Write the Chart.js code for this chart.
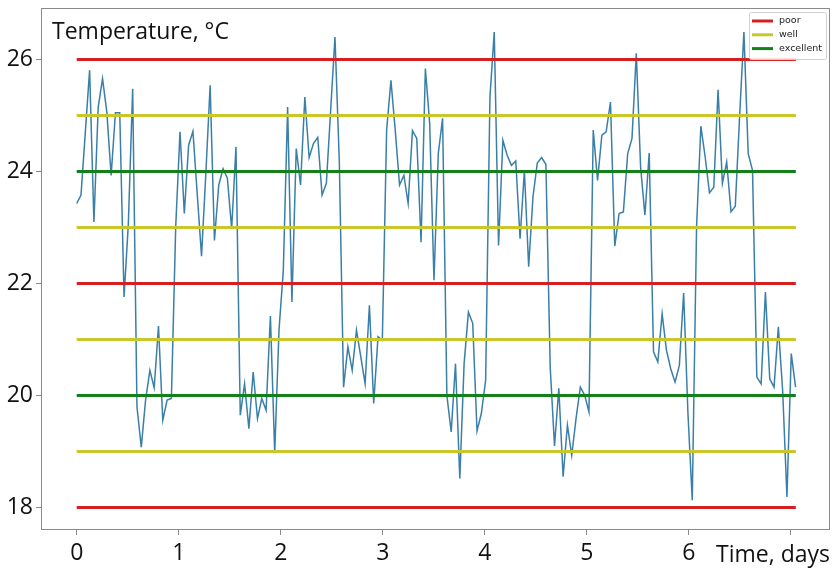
<!DOCTYPE html>
<html>
<head>
<meta charset="utf-8">
<script src="https://cdn.jsdelivr.net/npm/chart.js@4.4.0/dist/chart.umd.min.js"></script>
<style>
  html, body { margin: 0; padding: 0; background: #fff; }
  #wrap { width: 836px; height: 569px; }
</style>
</head>
<body>
<div id="wrap"><canvas id="tempChart" width="836" height="569"></canvas></div>
<script>
// hourly readings
var temps = [
  23.43, 23.58, 24.7, 25.81, 23.1, 25.15, 25.66, 25.06, 23.93, 25.05,
  25.05, 21.76, 23.07, 25.48, 19.8, 19.08, 19.92, 20.45, 20.14, 21.24,
  19.56, 19.92, 19.95, 23.01, 24.71, 23.25, 24.47, 24.72, 23.6, 22.49,
  23.96, 25.54, 22.77, 23.76, 24.05, 23.88, 22.98, 24.44, 19.65, 20.21,
  19.41, 20.42, 19.59, 19.95, 19.74, 21.42, 18.98, 21.17, 22.24, 25.15,
  21.67, 24.41, 23.76, 25.33, 24.25, 24.5, 24.61, 23.58, 23.79, 25.1,
  26.4, 24.2, 20.15, 20.87, 20.45, 21.17, 20.69, 20.21, 21.61, 19.86,
  21.05, 20.99, 24.74, 25.63, 24.74, 23.76, 23.93, 23.43, 24.73, 24.59,
  22.74, 25.84, 24.86, 22.06, 24.32, 24.95, 20.0, 19.35, 20.57, 18.52,
  20.57, 21.49, 21.29, 19.37, 19.68, 20.27, 25.33, 26.49, 22.68, 24.56,
  24.29, 24.11, 24.19, 22.8, 24.02, 22.3, 23.55, 24.15, 24.25, 24.13,
  20.51, 19.1, 20.13, 18.55, 19.47, 18.93, 19.59, 20.15, 20.01, 19.71,
  24.74, 23.84, 24.65, 24.71, 25.24, 22.67, 23.25, 23.28, 24.32, 24.59,
  26.11, 24.08, 23.22, 24.33, 20.78, 20.6, 21.46, 20.81, 20.48, 20.24,
  20.54, 21.83, 19.68, 18.13, 23.01, 24.81, 24.26, 23.62, 23.72, 25.46,
  23.79, 24.17, 23.28, 23.38, 24.98, 26.49, 24.32, 24.02, 20.33, 20.21,
  21.85, 20.3, 20.15, 21.23, 20.09, 18.19, 20.75, 20.15
];
var sampleStep = 0.0422; // days between readings

var poorLevels = [18, 22, 26];
var wellLevels = [19, 21, 23, 25];
var excellentLevels = [20, 24];
var levelSpan = [0, 7.05];

var xTicks = [0, 1, 2, 3, 4, 5, 6, 7];
var xTickLabels = ['0', '1', '2', '3', '4', '5', '6', ''];
var yTicks = [18, 20, 22, 24, 26];

var yTitle = 'Temperature, \u00B0C';
var xTitle = 'Time, days';

var levelSets = [
  { label: 'poor', color: '#d42020', levels: poorLevels },
  { label: 'well', color: '#c8c82a', levels: wellLevels },
  { label: 'excellent', color: '#13801a', levels: excellentLevels }
];

var datasets = [{
  label: 'Temperature',
  data: temps.map(function(t, i) { return { x: i * sampleStep, y: t }; }),
  borderColor: '#3a7fa8',
  borderWidth: 1.5,
  pointRadius: 0,
  tension: 0,
  order: 2
}];
levelSets.forEach(function(set) {
  set.levels.forEach(function(v) {
    datasets.push({
      label: set.label,
      data: [{ x: levelSpan[0], y: v }, { x: levelSpan[1], y: v }],
      borderColor: set.color,
      borderWidth: 3,
      pointRadius: 0,
      order: 1
    });
  });
});

var tickFont = { family: '"Open Sans", "Noto Sans", sans-serif', size: 23 };
var axisGrey = '#8a8a8a';

// frame, inner y label and the legend box in the upper right corner
var framePlugin = {
  id: 'frame',
  afterDraw: function(chart) {
    var a = chart.chartArea, ctx = chart.ctx;
    ctx.save();
    ctx.strokeStyle = axisGrey;
    ctx.lineWidth = 1;
    ctx.strokeRect(a.left + 0.5, a.top + 0.5, a.right - a.left - 1, a.bottom - a.top - 1);

    ctx.fillStyle = '#111';
    ctx.font = '23px "Open Sans", "Noto Sans", sans-serif';
    ctx.textBaseline = 'alphabetic';
    ctx.textAlign = 'left';
    ctx.fillText(yTitle, 52, 39);

    var bx = 749, by = 12, bw = 77, bh = 47;
    ctx.fillStyle = 'rgba(255,255,255,0.85)';
    ctx.strokeStyle = '#d0d0d0';
    ctx.beginPath();
    ctx.roundRect(bx + 0.5, by + 0.5, bw, bh, 2);
    ctx.fill();
    ctx.stroke();

    ctx.font = '9.5px "DejaVu Sans", sans-serif';
    ctx.textBaseline = 'middle';
    levelSets.forEach(function(set, i) {
      var y = 21 + i * 13.8;
      ctx.strokeStyle = set.color;
      ctx.lineWidth = 3;
      ctx.beginPath();
      ctx.moveTo(752, y);
      ctx.lineTo(773, y);
      ctx.stroke();
      ctx.fillStyle = '#222';
      ctx.fillText(set.label, 779, y);
    });
    ctx.restore();
  }
};

function noPad(s) {
  s.paddingTop = 0; s.paddingBottom = 0; s.paddingLeft = 0; s.paddingRight = 0;
}

new Chart(document.getElementById('tempChart').getContext('2d'), {
  type: 'line',
  data: { datasets: datasets },
  plugins: [framePlugin],
  options: {
    responsive: false,
    animation: false,
    devicePixelRatio: 1,
    layout: { padding: { top: 8, right: 6, left: 0, bottom: 0 } },
    plugins: {
      legend: { display: false },
      tooltip: { enabled: false }
    },
    scales: {
      x: {
        type: 'linear',
        min: -0.35,
        max: 7.385,
        afterBuildTicks: function(s) { s.ticks = xTicks.map(function(v) { return { value: v }; }); },
        afterFit: function(s) { s.height = 39; noPad(s); },
        ticks: {
          font: tickFont,
          color: '#111',
          padding: 5,
          maxRotation: 0,
          autoSkip: false,
          callback: function(v, i) { return xTickLabels[i]; }
        },
        grid: { drawOnChartArea: false, drawTicks: true, tickLength: 5, color: axisGrey },
        border: { display: false },
        title: { display: true, text: xTitle, align: 'end', font: tickFont, color: '#111', padding: 0 }
      },
      y: {
        min: 17.6,
        max: 26.92,
        afterBuildTicks: function(s) { s.ticks = yTicks.map(function(v) { return { value: v }; }); },
        afterFit: function(s) { s.width = 41; noPad(s); },
        ticks: { font: tickFont, color: '#111', padding: 3 },
        grid: { drawOnChartArea: false, drawTicks: true, tickLength: 5, color: axisGrey },
        border: { display: false }
      }
    }
  }
});
</script>
</body>
</html>
